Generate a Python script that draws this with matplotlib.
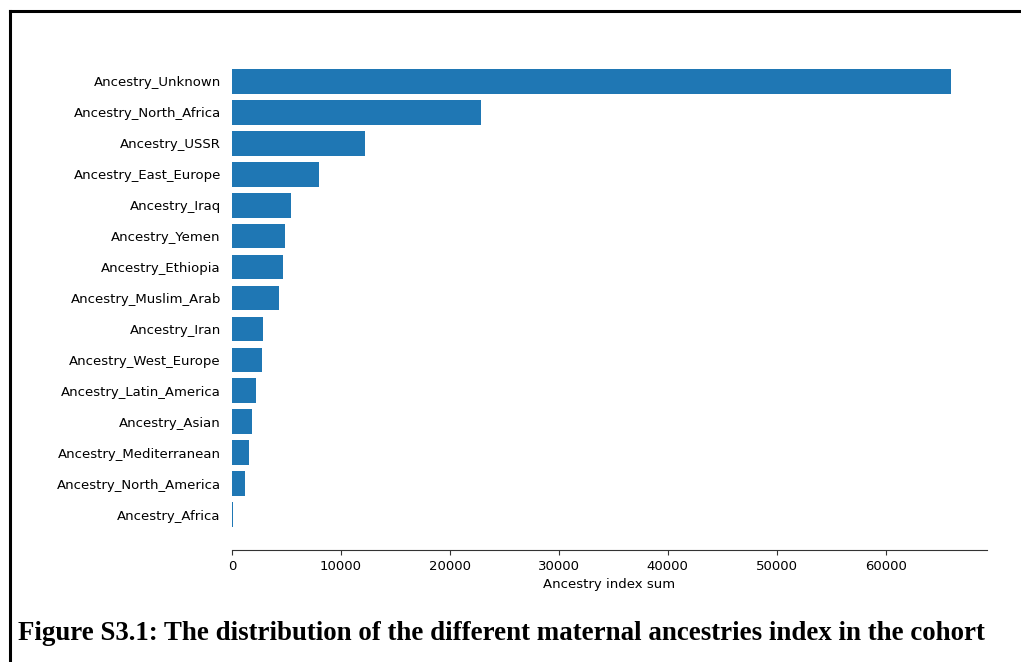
import matplotlib.pyplot as plt
from matplotlib.lines import Line2D

# ancestry groups, top to bottom as shown
ancestries = [
    "Ancestry_Unknown", "Ancestry_North_Africa", "Ancestry_USSR",
    "Ancestry_East_Europe", "Ancestry_Iraq", "Ancestry_Yemen",
    "Ancestry_Ethiopia", "Ancestry_Muslim_Arab", "Ancestry_Iran",
    "Ancestry_West_Europe", "Ancestry_Latin_America", "Ancestry_Asian",
    "Ancestry_Mediterranean", "Ancestry_North_America", "Ancestry_Africa",
]
index_sum = [66000, 22900, 12240, 8030, 5370, 4880, 4720, 4350,
             2880, 2790, 2160, 1810, 1540, 1170, 130]
xticks = [0, 10000, 20000, 30000, 40000, 50000, 60000]
caption = "Figure S3.1: The distribution of the different maternal ancestries index in the cohort"

fig = plt.figure(figsize=(10.21, 6.62), dpi=100)
ax = fig.add_axes([232 / 1021, 112 / 662, 755 / 1021, 504 / 662])

# plot bottom-up so the largest sits on top
ax.barh(ancestries[::-1], index_sum[::-1], height=0.8, color="#1f77b4")
ax.set_xticks(xticks)
ax.set_xlabel("Ancestry index sum", fontsize=9.5, labelpad=3.5)
ax.tick_params(axis="x", labelsize=9.5, length=3.5, pad=3.5, color="#333333")
ax.tick_params(axis="y", labelsize=9.5, length=0, pad=8)
for side in ["top", "right", "left"]:
    ax.spines[side].set_visible(False)
ax.spines["bottom"].set_color("#333333")

# document frame around the figure (cut off at right and bottom)
fig.add_artist(Line2D([10 / 1021, 10 / 1021], [0, 1 - 11 / 662],
                      transform=fig.transFigure, color="black", lw=2.2))
fig.add_artist(Line2D([10 / 1021, 1], [1 - 11 / 662, 1 - 11 / 662],
                      transform=fig.transFigure, color="black", lw=2.2))

fig.text(18 / 1021, 1 - 633 / 662, caption, family="Liberation Serif",
         fontweight="bold", fontsize=19.4, ha="left", va="center")

fig.savefig("out.png", dpi=100)
